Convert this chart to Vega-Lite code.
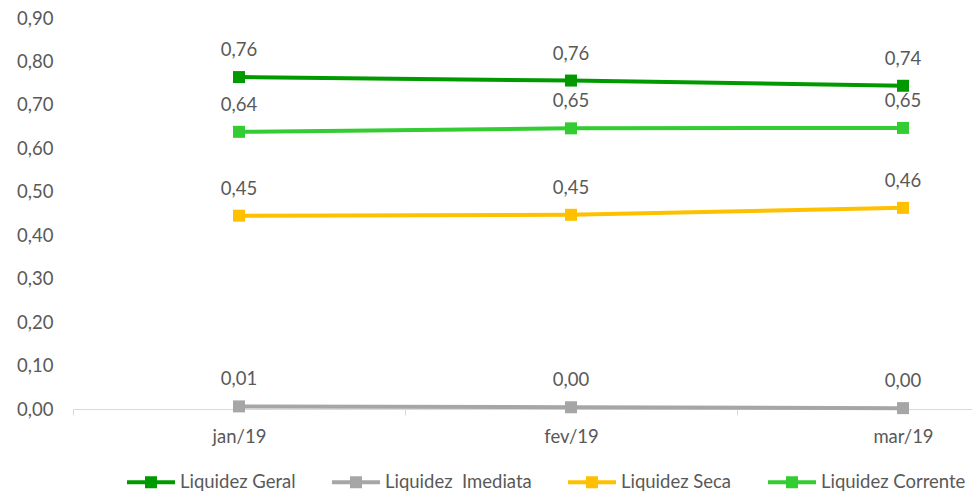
{
  "$schema": "https://vega.github.io/schema/vega-lite/v6.json",
  "autosize": {"type": "none"},
  "padding": {"left": 73, "top": 18, "right": 0, "bottom": 84},
  "width": 899,
  "height": 391,
  "background": "white",
  "config": {
    "view": {"stroke": null},
    "font": "Lato",
    "locale": {"number": {"decimal": ",", "thousands": ".", "grouping": [3], "currency": ["R$ ", ""]}}
  },
  "data": {
    "values": [
      {"mes": "jan/19", "serie": "Liquidez Geral", "valor": 0.764},
      {"mes": "fev/19", "serie": "Liquidez Geral", "valor": 0.756},
      {"mes": "mar/19", "serie": "Liquidez Geral", "valor": 0.744},
      {"mes": "jan/19", "serie": "Liquidez\u00a0 Imediata", "valor": 0.006},
      {"mes": "fev/19", "serie": "Liquidez\u00a0 Imediata", "valor": 0.004},
      {"mes": "mar/19", "serie": "Liquidez\u00a0 Imediata", "valor": 0.002},
      {"mes": "jan/19", "serie": "Liquidez Seca", "valor": 0.445},
      {"mes": "fev/19", "serie": "Liquidez Seca", "valor": 0.447},
      {"mes": "mar/19", "serie": "Liquidez Seca", "valor": 0.463},
      {"mes": "jan/19", "serie": "Liquidez Corrente", "valor": 0.638},
      {"mes": "fev/19", "serie": "Liquidez Corrente", "valor": 0.646},
      {"mes": "mar/19", "serie": "Liquidez Corrente", "valor": 0.647}
    ]
  },
  "encoding": {
    "x": {
      "field": "mes", "type": "ordinal", "sort": ["jan/19", "fev/19", "mar/19"],
      "scale": {"type": "band", "range": [0, 996], "paddingInner": 0, "paddingOuter": 0},
      "axis": {
        "title": null, "labelAngle": 0, "tickBand": "extent", "tickSize": 6,
        "domainColor": "#d9d9d9", "tickColor": "#d9d9d9", "labelColor": "#595959",
        "labelFontSize": 18.5, "labelPadding": 12, "grid": false
      }
    },
    "y": {
      "field": "valor", "type": "quantitative",
      "scale": {"domain": [0, 0.9], "nice": false},
      "axis": {
        "title": null, "values": [0, 0.1, 0.2, 0.3, 0.4, 0.5, 0.6, 0.7, 0.8, 0.9],
        "format": ".2f", "domain": false, "ticks": false, "grid": false,
        "labelColor": "#595959", "labelFontSize": 18.5, "labelPadding": 20
      }
    },
    "color": {
      "field": "serie", "type": "nominal",
      "scale": {
        "domain": ["Liquidez Geral", "Liquidez\u00a0 Imediata", "Liquidez Seca", "Liquidez Corrente"],
        "range": ["#009a00", "#a6a6a6", "#ffc000", "#33cc33"]
      },
      "legend": {
        "title": null, "orient": "none", "direction": "horizontal",
        "legendX": 54, "legendY": 440,
        "symbolType": "M-1,-0.085H1V0.085H-1Z M-0.25,-0.25H0.25V0.25H-0.25Z",
        "symbolSize": 2304, "symbolStrokeWidth": 0, "symbolOpacity": 1,
        "labelFontSize": 18.5, "labelColor": "#595959", "labelOffset": 5,
        "columnPadding": 36, "labelLimit": 300,
        "encode": {"symbols": {"update": {"fill": {"scale": "color", "field": "value"}, "fillOpacity": {"value": 1}, "strokeWidth": {"value": 0}, "size": {"value": 2304}}}}
      }
    }
  },
  "layer": [
    {
      "mark": {"type": "line", "strokeWidth": 4, "clip": false}
    },
    {
      "mark": {"type": "point", "shape": "square", "filled": true, "opacity": 1, "size": 144, "clip": false}
    },
    {
      "mark": {"type": "text", "dy": -27, "fontSize": 18.5, "color": "#595959", "clip": false},
      "encoding": {
        "text": {"field": "valor", "type": "quantitative", "format": ".2f"},
        "color": {"value": "#595959"}
      }
    }
  ]
}
